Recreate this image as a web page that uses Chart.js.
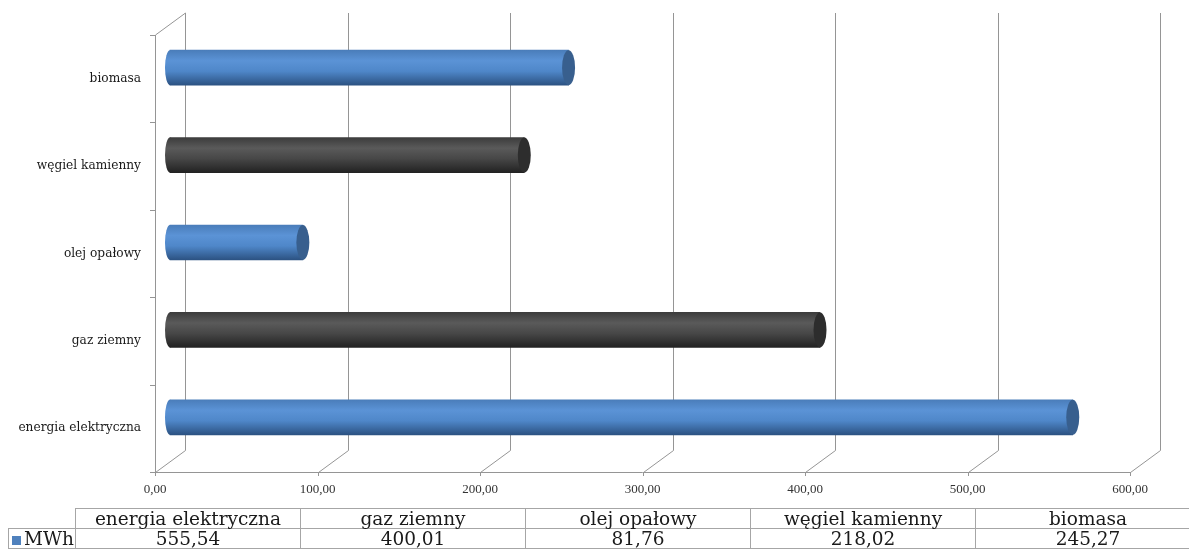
<!DOCTYPE html>
<html lang="pl">

<head>
    <meta charset="UTF-8">
    <title>Zużycie energii – MWh</title>
    <script src="https://cdn.jsdelivr.net/npm/chart.js"></script>
    <style>
        body {
            margin: 0;
            background: #fff;
        }

        #wrap {
            position: relative;
            width: 1189px;
            height: 551px;
            overflow: hidden;
        }

        #chart {
            position: absolute;
            left: 0;
            top: 0;
        }

        #dataTable {
            position: absolute;
            left: 8px;
            top: 508px;
            width: 1192px;
            border-collapse: collapse;
            table-layout: fixed;
            font-family: 'DejaVu Serif', serif;
            font-size: 18.5px;
            color: #1a1a1a;
        }

        #dataTable td {
            border: 1px solid #a6a6a6;
            height: 19px;
            line-height: 19px;
            padding: 0;
            text-align: center;
            white-space: nowrap;
        }

        #dataTable td.corner {
            border-top: none;
            border-left: none;
        }

        #dataTable td.legend {
            text-align: left;
            padding-left: 3px;
        }

        .swatch {
            display: inline-block;
            width: 9px;
            height: 9px;
            margin-right: 3px;
            background: #4f81bd;
        }
    </style>
</head>

<body>
    <div id="wrap">
        <canvas id="chart" width="1189" height="551"></canvas>
        <table id="dataTable"></table>
    </div>

    <script>
        // dane z wykresu
        const categories = ['energia elektryczna', 'gaz ziemny', 'olej opałowy', 'węgiel kamienny', 'biomasa'];
        const mwh = [555.54, 400.01, 81.76, 218.02, 245.27];
        const xTickLabels = ['0,00', '100,00', '200,00', '300,00', '400,00', '500,00', '600,00'];
        const seriesName = 'MWh';

        // przesunięcie "głębi" 3D
        const DX = 30, DY = -22;
        const BAR_H = 35;

        const palette = [
            { flat: '#4f81bd', cap: '#385f8e', stops: [[0, '#4a7dba'], [0.3, '#5b93d6'], [0.6, '#4f87c9'], [1, '#2c5282']] },
            { flat: '#404040', cap: '#2d2d2d', stops: [[0, '#3c3c3c'], [0.3, '#5a5a5a'], [0.6, '#474747'], [1, '#222222']] }
        ];

        function makeGradient(ctx, y, i) {
            const g = ctx.createLinearGradient(0, y - BAR_H / 2, 0, y + BAR_H / 2);
            palette[i % 2].stops.forEach(([o, c]) => g.addColorStop(o, c));
            return g;
        }

        function barFill(context) {
            const chart = context.chart;
            if (!chart.chartArea || !chart.scales.y) return palette[context.dataIndex % 2].flat;
            const y = chart.scales.y.getPixelForValue(context.dataIndex);
            return makeGradient(chart.ctx, y, context.dataIndex);
        }

        // ramka 3D: podłoga, ściana boczna, linie siatki na tylnej ścianie
        const frame3d = {
            id: 'frame3d',
            beforeDatasetsDraw(chart) {
                const { ctx, chartArea: a, scales: { x } } = chart;
                ctx.save();
                ctx.strokeStyle = '#959595';
                ctx.lineWidth = 1;
                ctx.beginPath();
                ctx.moveTo(a.left, a.bottom + 0.5);
                ctx.lineTo(a.right, a.bottom + 0.5);
                x.ticks.forEach(t => {
                    const px = Math.round(x.getPixelForValue(t.value)) + 0.5;
                    ctx.moveTo(px, a.bottom);
                    ctx.lineTo(px, a.bottom + 4);
                    ctx.moveTo(px, a.bottom + 0.5);
                    ctx.lineTo(px + DX, a.bottom + DY + 0.5);
                    ctx.lineTo(px + DX, a.top + DY);
                });
                const lx = Math.round(a.left) + 0.5;
                ctx.moveTo(lx, a.bottom);
                ctx.lineTo(lx, a.top);
                ctx.lineTo(lx + DX, a.top + DY);
                const n = categories.length;
                for (let i = 0; i <= n; i++) {
                    const py = Math.round(a.top + (a.bottom - a.top) * i / n) + 0.5;
                    ctx.moveTo(a.left - 5, py);
                    ctx.lineTo(a.left, py);
                }
                ctx.stroke();
                ctx.restore();

                // słupki rysowane w połowie głębokości
                ctx.save();
                ctx.translate(DX / 2, DY / 2);
            },
            afterDatasetsDraw(chart) {
                const ctx = chart.ctx;
                chart.getDatasetMeta(0).data.forEach((bar, i) => {
                    const { x, y, base, height } = bar.getProps(['x', 'y', 'base', 'height'], true);
                    const ry = height / 2;
                    // zaokrąglony początek walca
                    ctx.beginPath();
                    ctx.ellipse(base, y, 5, ry, 0, 0, Math.PI * 2);
                    ctx.fillStyle = makeGradient(ctx, y, i);
                    ctx.fill();
                    // denko walca
                    ctx.beginPath();
                    ctx.ellipse(x, y, 6.5, ry, 0, 0, Math.PI * 2);
                    ctx.fillStyle = palette[i % 2].cap;
                    ctx.fill();
                });
                ctx.restore();
            }
        };

        new Chart(document.getElementById('chart'), {
            type: 'bar',
            data: {
                labels: categories,
                datasets: [{
                    label: seriesName,
                    data: mwh,
                    backgroundColor: barFill,
                    borderWidth: 0,
                    barThickness: BAR_H,
                    clip: false
                }]
            },
            options: {
                indexAxis: 'y',
                responsive: false,
                animation: false,
                layout: { padding: { top: 35, right: 59, left: 0, bottom: 0 } },
                plugins: {
                    legend: { display: false },
                    tooltip: { enabled: false }
                },
                scales: {
                    x: {
                        min: 0,
                        max: 600,
                        grid: { display: false, drawTicks: false },
                        border: { display: false },
                        ticks: {
                            stepSize: 100,
                            padding: 10,
                            maxRotation: 0,
                            color: '#333333',
                            font: { family: 'Liberation Serif', size: 13 },
                            callback: (v, i) => xTickLabels[i]
                        },
                        afterFit: s => { s.height = 79; }
                    },
                    y: {
                        reverse: true,
                        grid: { display: false, drawTicks: false },
                        border: { display: false },
                        ticks: {
                            padding: 14,
                            color: '#1a1a1a',
                            font: { family: 'DejaVu Serif', size: 12.2 }
                        },
                        afterFit: s => { s.width = 155; }
                    }
                }
            },
            plugins: [frame3d]
        });

        // tabela danych pod wykresem
        const table = document.getElementById('dataTable');
        const colW = [67, 225, 225, 225, 225, 225];
        const cg = document.createElement('colgroup');
        colW.forEach(w => {
            const c = document.createElement('col');
            c.style.width = w + 'px';
            cg.appendChild(c);
        });
        table.appendChild(cg);

        const head = table.insertRow();
        head.insertCell().className = 'corner';
        categories.forEach(c => { head.insertCell().textContent = c; });

        const row = table.insertRow();
        const lg = row.insertCell();
        lg.className = 'legend';
        lg.innerHTML = '<span class="swatch"></span>' + seriesName;
        mwh.forEach(v => { row.insertCell().textContent = v.toFixed(2).replace('.', ','); });
    </script>
</body>

</html>
